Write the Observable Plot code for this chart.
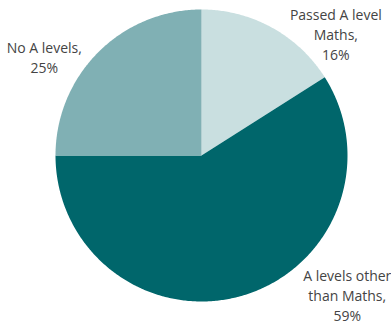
<!DOCTYPE html>
<html>
<head>
<meta charset="utf-8">
<script src="https://cdn.jsdelivr.net/npm/d3@7"></script>
<script src="https://cdn.jsdelivr.net/npm/@observablehq/plot@0.6"></script>
<style>
  html, body { margin: 0; padding: 0; background: #fff; }
  #chart svg { display: block; }
</style>
</head>
<body>
<div id="chart"></div>
<script>
const categories = ["Passed A level Maths", "A levels other than Maths", "No A levels"];
const values = [16, 59, 25];
const labelTexts = ["Passed A level\nMaths,\n16%", "A levels other\nthan Maths,\n59%", "No A levels,\n25%"];
const colors = ["#c9dfe0", "#00666b", "#80b0b4"];
// label offsets (px) from the slice's outer arc midpoint
const labelDx = [64, 105, -54];
const labelDy = [6, -1, 4];

const arcs = d3.pie().sort(null).value(d => d)(values);

const slices = arcs.map((a, i) => {
  const n = Math.max(2, Math.ceil((a.endAngle - a.startAngle) / 0.01));
  const pts = [{x: 0, y: 0}];
  for (let k = 0; k <= n; k++) {
    const t = a.startAngle + (a.endAngle - a.startAngle) * k / n;
    pts.push({x: Math.sin(t), y: Math.cos(t)});
  }
  pts.push({x: 0, y: 0});
  return pts;
});

const labelData = arcs.map((a, i) => {
  const m = (a.startAngle + a.endAngle) / 2;
  return {x: Math.sin(m), y: Math.cos(m), text: labelTexts[i], category: categories[i]};
});

const marks = [];
slices.forEach((pts, i) => {
  marks.push(Plot.line(pts, {x: "x", y: "y", fill: colors[i], stroke: "none"}));
});
labelData.forEach((d, i) => {
  marks.push(Plot.text([d], {
    x: "x", y: "y", text: "text",
    dx: labelDx[i], dy: labelDy[i],
    textAnchor: "middle", lineAnchor: "middle", lineHeight: 1.43,
    fontSize: 14, fill: "#444444"
  }));
});

const chart = Plot.plot({
  width: 391,
  height: 324,
  marginLeft: 55,
  marginRight: 44,
  marginTop: 9,
  marginBottom: 23,
  x: {domain: [-1, 1], axis: null},
  y: {domain: [-1, 1], axis: null},
  style: {fontFamily: "'Open Sans', sans-serif", background: "#fff", overflow: "visible"},
  marks
});
document.getElementById("chart").appendChild(chart);
</script>
</body>
</html>
